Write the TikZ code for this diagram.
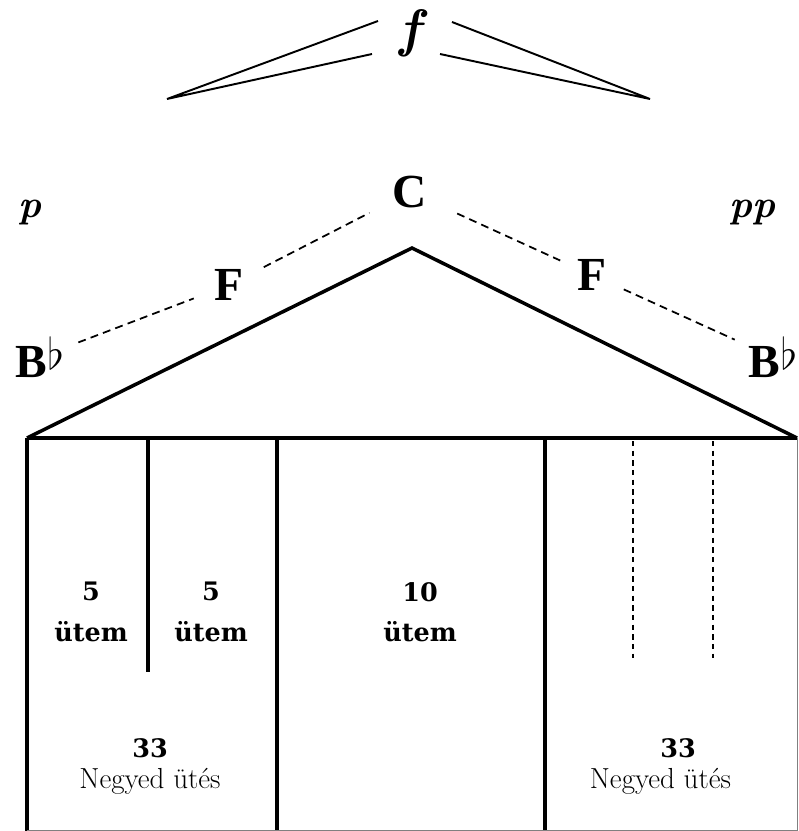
\documentclass[tikz,border=0pt]{standalone}
\usepackage{fontspec}
\usepackage{amsmath}
\usetikzlibrary{positioning, calc}
\newfontfamily\notefont{Liberation Serif}
\newfontfamily\slabfont{DejaVu Serif}

\begin{document}
\begin{tikzpicture}[
    x=0.02cm, y=-0.02cm,
    notename/.style={font=\notefont\fontsize{27}{30}\selectfont\bfseries, inner sep=6pt},
    dyn/.style={font=\fontsize{22}{26}\selectfont\bfseries\itshape, inner sep=2pt},
    count/.style={font=\slabfont\fontsize{14.5}{21}\selectfont\bfseries, align=center},
    beats/.style={font=\fontsize{16.5}{20}\selectfont, align=center},
    wall/.style={line width=2pt},
    hairpin/.style={line width=1.1pt},
    link/.style={dash pattern=on 4.5pt off 3pt, line width=1pt},
    sublink/.style={dash pattern=on 3pt off 2.5pt, line width=0.8pt}
]
    \useasboundingbox (0,0) rectangle (798,831);

    % Dynamics
    \node[dyn, font=\fontsize{30}{32}\selectfont\bfseries\itshape] (forte) at (410,33) {f};
    \node[dyn] (piano)  at (30,213)  {p};
    \node[dyn] (pianis) at (752,213) {pp};

    % Hairpins
    \coordinate (crescL) at (167,99);
    \coordinate (decrR)  at (650,99);
    \draw[hairpin] (378,21) -- (crescL) -- (372,54);
    \draw[hairpin] (452,22) -- (decrR) -- (440,54);

    % Keys
    \node[notename] (c)   at (410,192) {C};
    \node[notename] (fl)  at (229,285) {F};
    \node[notename] (fr)  at (592,275) {F};
    \node[notename] (bl)  at (40,357)  {B\raisebox{0.35ex}{$\flat$}};
    \node[notename] (br)  at (773,357) {B\raisebox{0.35ex}{$\flat$}};

    \draw[link, shorten <=2pt, shorten >=6pt] (bl) -- (fl);
    \draw[link, shorten <=6pt, shorten >=8pt] (fl) -- (c);
    \draw[link, shorten <=12pt, shorten >=4pt] (c) -- (fr);
    \draw[link, shorten <=4pt, shorten >=2pt] (fr) -- (br);

    % Roof
    \draw[wall, line join=miter] (27,438) -- (412,248) -- (797,438);
    \draw[wall] (27,438) -- (797,438);

    % Sections
    \draw[wall] (27,438) -- (27,831);
    \draw[wall] (148,438) -- (148,672);
    \draw[wall] (277,438) -- (277,831);
    \draw[wall] (545,438) -- (545,831);
    \foreach \xx in {633,713}
        \draw[sublink] (\xx,441) -- (\xx,658);
    \draw[gray, line width=0.5pt] (27,830) -- (797,830) -- (797,438);

    % Labels
    \node[count] (barA) at (91,612)  {5\\[2pt]ütem};
    \node[count] (barB) at (211,612) {5\\[2pt]ütem};
    \node[count] (barC) at (420,612) {10\\[2pt]ütem};

    \node[count] (numL) at (150,748) {33};
    \node[beats, below=-1pt of numL] (beatL) {Negyed ütés};
    \node[count] (numR) at (678,748) {33};
    \node[beats, below=-1pt of numR, xshift=-10] (beatR) {Negyed ütés};

\end{tikzpicture}
\end{document}
